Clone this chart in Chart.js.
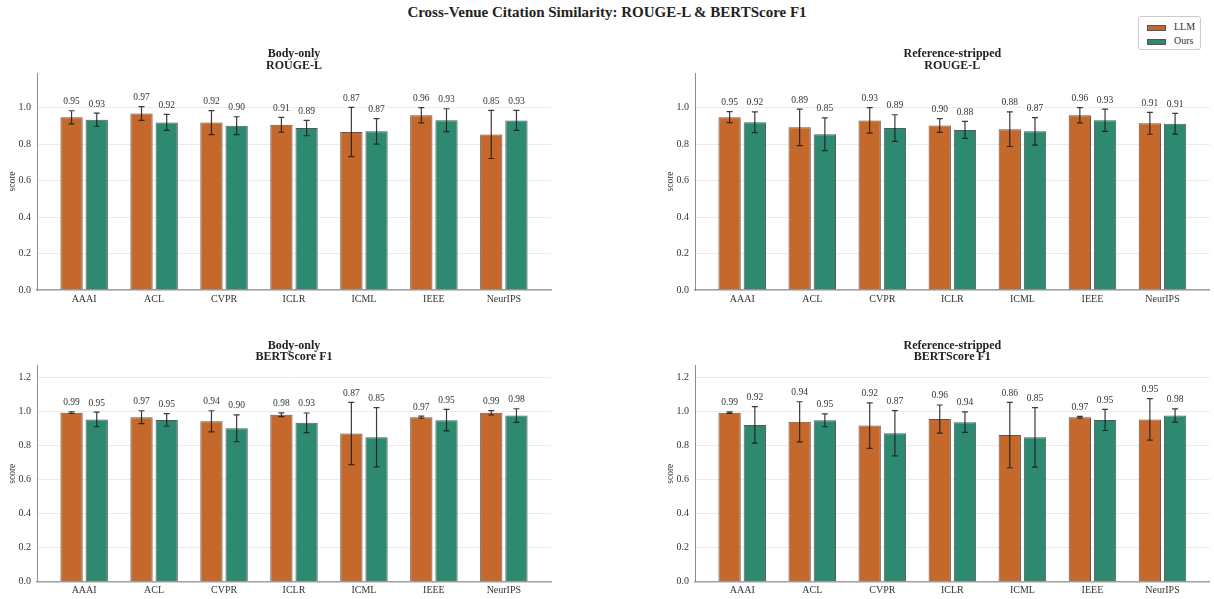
<!DOCTYPE html>
<html><head><meta charset="utf-8">
<script src="https://cdn.jsdelivr.net/npm/chart.js@4"></script>
<style>
body{margin:0;background:#fff;width:1214px;height:599px;overflow:hidden;position:relative;font-family:"Liberation Serif","DejaVu Serif",serif;color:#222;}
canvas{position:absolute;}
#title{position:absolute;left:0;width:1214px;top:3px;text-align:center;font-weight:bold;font-size:15px;line-height:18px;color:#222;}
#legend{position:absolute;left:1138px;top:16px;width:63px;height:34px;border:1px solid #ccc;border-radius:3px;box-sizing:border-box;background:#fff;}
.li{position:absolute;left:8px;font-size:10px;line-height:12px;color:#333;}
.sw{display:inline-block;width:19px;height:6px;border:1px solid #555;vertical-align:middle;margin-right:8px;box-sizing:border-box;}
</style></head>
<body>
<div id="title">Cross-Venue Citation Similarity: ROUGE-L &amp; BERTScore F1</div>
<div id="legend">
  <div class="li" style="top:4px"><span class="sw" style="background:#c4682c"></span>LLM</div>
  <div class="li" style="top:18px"><span class="sw" style="background:#2d8a70"></span>Ours</div>
</div>
<canvas id="c1"></canvas><canvas id="c2"></canvas><canvas id="c3"></canvas><canvas id="c4"></canvas>
<script>
const venues = ['AAAI','ACL','CVPR','ICLR','ICML','IEEE','NeurIPS'];
const seriesNames = ['LLM','Ours'];

// Body-only ROUGE-L
const bodyRougeLLM  = [0.947,0.968,0.918,0.906,0.866,0.958,0.853];
const bodyRougeLLMErr = [0.036,0.038,0.066,0.041,0.135,0.042,0.132];
const bodyRougeOurs = [0.934,0.919,0.901,0.888,0.870,0.931,0.930];
const bodyRougeOursErr = [0.036,0.044,0.049,0.042,0.070,0.063,0.055];

// Reference-stripped ROUGE-L
const refRougeLLM  = [0.948,0.892,0.930,0.902,0.882,0.958,0.914];
const refRougeLLMErr = [0.030,0.100,0.070,0.038,0.095,0.042,0.060];
const refRougeOurs = [0.920,0.854,0.888,0.878,0.870,0.931,0.912];
const refRougeOursErr = [0.057,0.090,0.073,0.047,0.075,0.061,0.057];

// Body-only BERTScore F1
const bodyBertLLM  = [0.994,0.967,0.943,0.982,0.871,0.967,0.993];
const bodyBertLLMErr = [0.005,0.038,0.062,0.011,0.183,0.006,0.013];
const bodyBertOurs = [0.954,0.951,0.902,0.934,0.849,0.950,0.977];
const bodyBertOursErr = [0.043,0.037,0.079,0.058,0.174,0.063,0.040];

// Reference-stripped BERTScore F1
const refBertLLM  = [0.994,0.940,0.918,0.956,0.862,0.967,0.954];
const refBertLLMErr = [0.004,0.118,0.134,0.083,0.192,0.005,0.122];
const refBertOurs = [0.922,0.949,0.873,0.938,0.849,0.951,0.977];
const refBertOursErr = [0.107,0.038,0.133,0.060,0.175,0.062,0.039];

const panelTitles = [['Body-only','ROUGE-L'],['Reference-stripped','ROUGE-L'],['Body-only','BERTScore F1'],['Reference-stripped','BERTScore F1']];
const yTickStep = 0.2;

const COL_LLM = '#c4682c', COL_OURS = '#2d8a70';
Chart.defaults.font.family = "'Liberation Serif','DejaVu Serif',serif";
Chart.defaults.color = '#333';

const errPlugin = {
  id:'errbars',
  afterDatasetsDraw(chart){
    const ctx = chart.ctx, ys = chart.scales.y;
    chart.data.datasets.forEach((ds,di)=>{
      const meta = chart.getDatasetMeta(di);
      meta.data.forEach((bar,i)=>{
        const m = ds.means[i], e = ds.errs[i];
        const x = bar.x, yt = ys.getPixelForValue(m+e), yb = ys.getPixelForValue(m-e);
        ctx.save();
        ctx.strokeStyle='rgba(25,25,25,0.85)'; ctx.lineWidth=1.2;
        ctx.beginPath();
        ctx.moveTo(x,yt); ctx.lineTo(x,yb);
        ctx.moveTo(x-3,yt); ctx.lineTo(x+3,yt);
        ctx.moveTo(x-3,yb); ctx.lineTo(x+3,yb);
        ctx.stroke();
        ctx.fillStyle='#333'; ctx.font='9.5px "Liberation Serif"';
        ctx.textAlign='center'; ctx.textBaseline='middle';
        ctx.fillText(m.toFixed(2), x, yt-9);
        ctx.restore();
      });
    });
  }
};
const subTitlePlugin = {
  id:'subtitle',
  afterDraw(chart, args, opts){
    const ctx = chart.ctx, a = chart.chartArea;
    const cx = (a.left+a.right)/2;
    ctx.save();
    ctx.fillStyle='#222'; ctx.font='bold 12px "Liberation Serif"';
    ctx.textAlign='center'; ctx.textBaseline='middle';
    opts.lines.forEach((t,k)=>ctx.fillText(t, cx, opts.y0 + k*11.5));
    ctx.restore();
  }
};

const panels = [
  {id:'c1', left:0,   top:40,  w:570, h:270, padTop:33,   padRight:19,  xH:20,   ymax:1.19, ty:14.3, t:panelTitles[0], a:bodyRougeLLM, ae:bodyRougeLLMErr, b:bodyRougeOurs, be:bodyRougeOursErr},
  {id:'c2', left:658, top:40,  w:556, h:270, padTop:33,   padRight:4.3, xH:20,   ymax:1.19, ty:14.3, t:panelTitles[1], a:refRougeLLM, ae:refRougeLLMErr, b:refRougeOurs, be:refRougeOursErr},
  {id:'c3', left:0,   top:330, w:570, h:269, padTop:35.7, padRight:19,  xH:17.3, ymax:1.27, ty:15.7, t:panelTitles[2], a:bodyBertLLM, ae:bodyBertLLMErr, b:bodyBertOurs, be:bodyBertOursErr},
  {id:'c4', left:658, top:330, w:556, h:269, padTop:35.7, padRight:4.3, xH:17.3, ymax:1.27, ty:15.7, t:panelTitles[3], a:refBertLLM, ae:refBertLLMErr, b:refBertOurs, be:refBertOursErr},
];

panels.forEach(p=>{
  const cv = document.getElementById(p.id);
  cv.width = p.w; cv.height = p.h;
  cv.style.left = p.left+'px'; cv.style.top = p.top+'px';
  cv.style.width = p.w+'px'; cv.style.height = p.h+'px';
  const mk = (vals, errs, name, col) => ({
    label:name, data: vals.map((v,i)=>({x:i,y:v})), means: vals, errs: errs,
    backgroundColor: col, borderColor:'rgba(70,70,70,0.9)', borderWidth:1,
    categoryPercentage:0.72, barPercentage:0.885
  });
  new Chart(cv, {
    type:'bar',
    data:{ datasets:[ mk(p.a,p.ae,seriesNames[0],COL_LLM), mk(p.b,p.be,seriesNames[1],COL_OURS) ] },
    options:{
      responsive:false, animation:false, devicePixelRatio:1,
      layout:{padding:{top:p.padTop, right:p.padRight, left:0, bottom:0}},
      plugins:{ legend:{display:false}, tooltip:{enabled:false}, subtitle:{lines:p.t, y0:p.ty} },
      scales:{
        x:{ type:'linear', min:-0.674, max:venues.length-1+0.674, offset:false,
            grid:{display:false, drawTicks:false},
            border:{display:true, color:'#a0a0a0', width:1.5},
            afterBuildTicks(s){ s.ticks = venues.map((_,i)=>({value:i})); },
            afterFit(s){ s.height = p.xH; },
            ticks:{ autoSkip:false, maxRotation:0, padding:3, font:{size:10}, color:'#333',
                    callback:(v)=>venues[v] } },
        y:{ min:0, max:p.ymax,
            grid:{color:'#ececec', lineWidth:1, drawTicks:false},
            border:{display:true, color:'#8c8c8c', width:1},
            afterFit(s){ s.width = 37; },
            ticks:{ stepSize:yTickStep, includeBounds:false, padding:6, font:{size:10}, color:'#333',
                    callback:(v)=>Number(v).toFixed(1) },
            title:{ display:true, text:'score', font:{size:9.5}, color:'#333', padding:{top:7,bottom:0} } }
      }
    },
    plugins:[errPlugin, subTitlePlugin]
  });
});
</script>
</body></html>
